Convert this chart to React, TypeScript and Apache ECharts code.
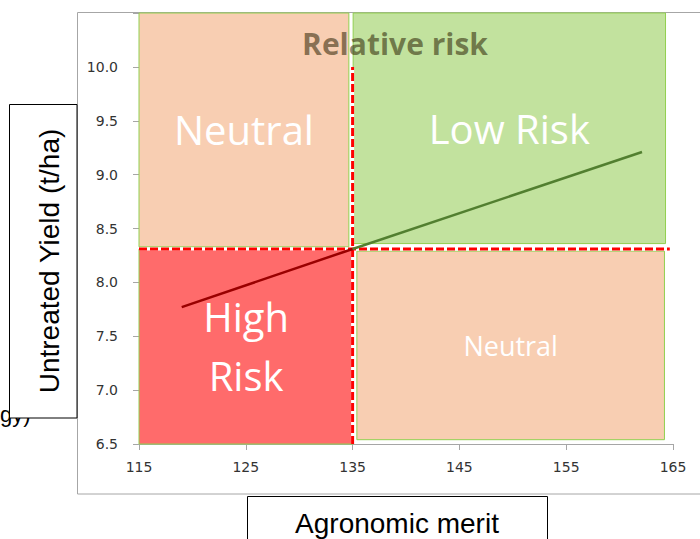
import { useEffect, useRef } from "react";
import * as echarts from "echarts";

// ---- data ----
const X_BASE = 115; // first tick of the merit axis
const xTickLabels = ["115", "125", "135", "145", "155", "165"];
const yTickLabels = ["6.5", "7.0", "7.5", "8.0", "8.5", "9.0", "9.5", "10.0"];

const regionNames = ["Neutral", "Low Risk", "High\nRisk", "Neutral"];
const regionX0 = [115, 135.05, 115, 135.4];
const regionX1 = [134.65, 164.3, 135.05, 164.2];
const regionY0 = [8.33, 8.36, 6.5, 6.54];
const regionY1 = [10.5, 10.5, 8.31, 8.29];

const trendHighX = [119, 135];
const trendHighY = [7.77, 8.31];
const trendLowX = [135, 162.1];
const trendLowY = [8.31, 9.21];

const thresholdMerit = 135;
const thresholdYield = 8.31;
const vLineYield = [6.5, 10.0];
const hLineMerit = [115, 164.7];

// ---- styles ----
const regionFill = ["#F8CEB2", "#C2E29E", "#FF6B6B", "#F8CEB2"];
const regionFont = [40, 40, 40, 27];

export default function App() {
  const ref = useRef<HTMLDivElement>(null);
  useEffect(() => {
    if (!ref.current) return;
    const chart = echarts.init(ref.current, undefined, { renderer: "svg" });
    const regionData = regionNames.map((_, i) => [
      regionX0[i] - X_BASE,
      regionX1[i] - X_BASE,
      regionY0[i],
      regionY1[i],
    ]);
    const toPts = (xs: number[], ys: number[]) => xs.map((x, i) => [x - X_BASE, ys[i]]);
    const vLine = vLineYield.map((y) => [thresholdMerit - X_BASE, y]);
    const hLine = hLineMerit.map((x) => [x - X_BASE, thresholdYield]);
    const labelFont = "DejaVu Sans";

    chart.setOption({
      animation: false,
      grid: { left: 139, right: 27, top: 13, bottom: 95, containLabel: false },
      xAxis: {
        type: "value",
        min: 0,
        max: 50,
        interval: 10,
        axisLine: { show: true, lineStyle: { color: "#a6a6a6", width: 1 } },
        axisTick: { show: true, inside: false, length: 6, lineStyle: { color: "#a6a6a6" } },
        axisLabel: {
          margin: 16,
          fontSize: 14,
          fontFamily: labelFont,
          color: "#333",
          formatter: (v: number) => xTickLabels[Math.round(v / 10)] ?? "",
        },
        splitLine: { show: false },
      },
      yAxis: {
        type: "value",
        min: 6.5,
        max: 10.5,
        interval: 0.5,
        axisLine: { show: true, lineStyle: { color: "#a6a6a6", width: 1 } },
        axisTick: { show: true, inside: false, length: 6, lineStyle: { color: "#a6a6a6" } },
        axisLabel: {
          margin: 21,
          fontSize: 14,
          fontFamily: labelFont,
          color: "#333",
          formatter: (v: number) => yTickLabels[Math.round((v - 6.5) / 0.5)] ?? "",
        },
        splitLine: { show: false },
      },
      series: [
        {
          type: "custom",
          data: regionData,
          encode: { x: [0, 1], y: [2, 3] },
          clip: false,
          z: 2,
          renderItem: (params: any, api: any) => {
            const i = params.dataIndex;
            const p0 = api.coord([api.value(0), api.value(3)]);
            const p1 = api.coord([api.value(1), api.value(2)]);
            return {
              type: "rect",
              shape: { x: p0[0], y: p0[1], width: p1[0] - p0[0], height: p1[1] - p0[1] },
              style: { fill: regionFill[i], stroke: "#92D050", lineWidth: 1 },
              textContent: {
                style: {
                  text: regionNames[i],
                  fill: "#ffffff",
                  fontSize: regionFont[i],
                  fontFamily: "Open Sans",
                  lineHeight: 59,
                  align: "center",
                  verticalAlign: "middle",
                },
              },
              textConfig: { position: "inside" },
            };
          },
        },
        {
          type: "line",
          data: vLine,
          symbol: "none",
          z: 3,
          lineStyle: { color: "#ffffff", width: 3 },
        },
        {
          type: "line",
          data: vLine,
          symbol: "none",
          z: 4,
          lineStyle: { color: "#FF0000", width: 3, type: [8, 3] },
        },
        {
          type: "line",
          data: hLine,
          symbol: "none",
          z: 3,
          lineStyle: { color: "#ffffff", width: 3 },
        },
        {
          type: "line",
          data: hLine,
          symbol: "none",
          z: 4,
          lineStyle: { color: "#FF0000", width: 3, type: [8, 3] },
        },
        {
          type: "line",
          data: toPts(trendHighX, trendHighY),
          symbol: "none",
          z: 5,
          lineStyle: { color: "#9A0000", width: 2.5 },
        },
        {
          type: "line",
          data: toPts(trendLowX, trendLowY),
          symbol: "none",
          z: 5,
          lineStyle: { color: "#527F30", width: 2.5 },
        },
      ],
      graphic: [
        {
          type: "rect",
          z: 1,
          shape: { x: 77.5, y: 12.5, width: 700, height: 481.5 },
          style: { fill: "none", stroke: "#a6a6a6", lineWidth: 1 },
        },
        {
          type: "text",
          z: 10,
          x: 0,
          y: 414,
          style: {
            text: "gy)",
            fill: "#000",
            font: "22px 'Liberation Sans', Arial, sans-serif",
            align: "left",
            verticalAlign: "middle",
          },
        },
        {
          type: "rect",
          z: 20,
          shape: { x: 9.5, y: 104.5, width: 67.5, height: 313.5 },
          style: { fill: "#ffffff", stroke: "#000", lineWidth: 1 },
        },
        {
          type: "text",
          z: 21,
          x: 49,
          y: 261,
          rotation: Math.PI / 2,
          style: {
            text: "Untreated Yield (t/ha)",
            fill: "#000",
            font: "28px 'Liberation Sans', Arial, sans-serif",
            align: "center",
            verticalAlign: "middle",
          },
        },
        {
          type: "rect",
          z: 20,
          shape: { x: 247.5, y: 496.5, width: 300, height: 60 },
          style: { fill: "#ffffff", stroke: "#000", lineWidth: 1 },
        },
        {
          type: "text",
          z: 21,
          x: 397,
          y: 523,
          style: {
            text: "Agronomic merit",
            fill: "#000",
            font: "28px 'Liberation Sans', Arial, sans-serif",
            align: "center",
            verticalAlign: "middle",
          },
        },
        {
          type: "text",
          z: 30,
          x: 395,
          y: 43,
          style: {
            text: "Relative risk",
            fill: "rgba(40,30,0,0.55)",
            font: "bold 30px 'Open Sans', sans-serif",
            align: "center",
            verticalAlign: "middle",
          },
        },
      ],
    });
    return () => chart.dispose();
  }, []);
  return (
    <div
      ref={ref}
      style={{ position: "fixed", left: 0, top: 0, width: 700, height: 539, background: "#fff" }}
    />
  );
}
